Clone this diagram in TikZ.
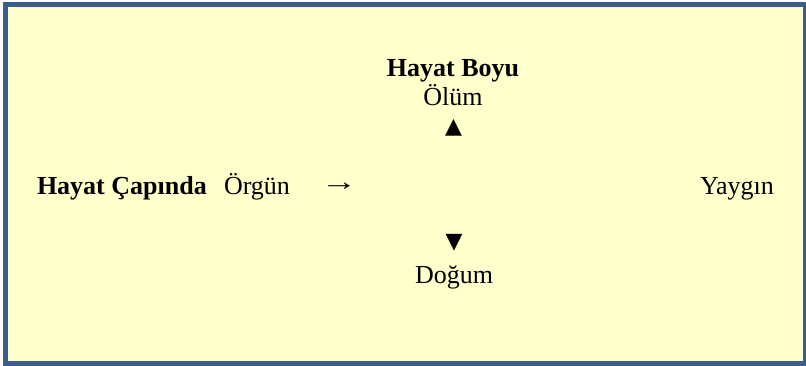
\documentclass[tikz,border=0pt]{standalone}
\usepackage{fontspec}
\setmainfont{Liberation Serif}
\newfontfamily\symfont{DejaVu Sans}
\definecolor{frameblue}{HTML}{3B5E8C}
\definecolor{paleyellow}{HTML}{FFFFCC}
\begin{document}
\begin{tikzpicture}[x=1bp,y=1bp,
  every node/.style={inner sep=0pt,outer sep=0pt,anchor=base,
    font=\fontsize{26bp}{30bp}\selectfont},
  title/.style={font=\fontsize{26bp}{30bp}\selectfont\bfseries},
  marker/.style={font=\fontsize{22bp}{26bp}\selectfont\symfont}]
\useasboundingbox (0,0) rectangle (806,365);
% framed yellow panel, its right and bottom sides cut by the page edge
\begin{scope}
\clip (0,0) rectangle (806,365);
\draw[line width=5bp,draw=frameblue,fill=paleyellow]
  (5.5,365-4.5) rectangle (805.5,365-363.5);
\end{scope}
% vertical axis: life-long
\node[title] (boyu) at (453,365-76) {Hayat Boyu};
\node (olum) at (453,365-105) {Ölüm};
\node[marker,anchor=center] (up) at (453.5,365-128) {▲};
\node[marker,anchor=center] (down) at (454,365-243) {▼};
\node (dogum) at (454,365-283) {Doğum};
% horizontal axis: life-wide
\node[title,anchor=base west] (capinda) at (37,365-194) {Hayat Çapında};
\node[anchor=base west] (orgun) at (224,365-194) {Örgün};
\node[anchor=center,xscale=1.4] (arrow) at (339,365-187) {→};
\node[anchor=base west] (yaygin) at (700,365-194) {Yaygın};
\end{tikzpicture}
\end{document}
